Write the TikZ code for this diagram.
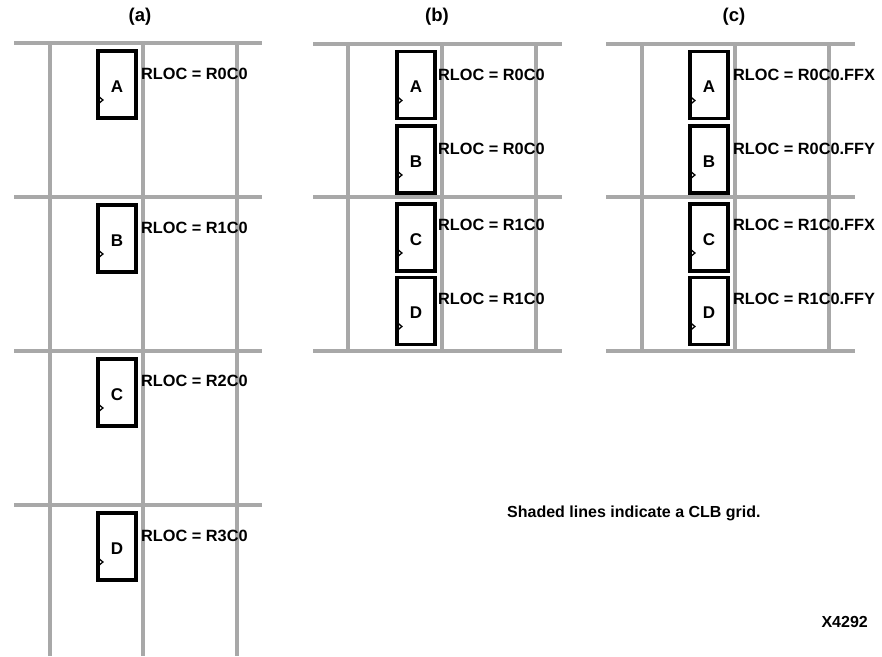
\documentclass[tikz,border=0pt]{standalone}
\usepackage{fontspec}
\setmainfont{Liberation Sans}
\usetikzlibrary{calc}
\tikzset{
  gridline/.style={draw=gray!68, line width=3.2pt},
  ffbox/.style={draw=black, line width=3.2pt, fill=white, minimum width=38pt, minimum height=67pt, inner sep=0pt, font=\bfseries\fontsize{17}{19}\selectfont},
  rloc/.style={anchor=base west, inner sep=0pt, font=\bfseries\fontsize{16.3}{18}\selectfont},
  title/.style={inner sep=0pt, font=\bfseries\fontsize{18.5}{21}\selectfont},
  note/.style={inner sep=0pt, font=\bfseries\fontsize{16}{18}\selectfont},
  clk/.style={draw=black, line width=1.3pt, line join=miter}
}
\newcommand{\clockmark}[1]{\draw[clk] ($(#1.west)+(0.5,10.5)$) -- ++(6,5) -- ++(-6,5);}
\newcommand{\ffl}[1]{\raisebox{-2pt}[\height][0pt]{#1}}
\begin{document}
\begin{tikzpicture}[x=1pt,y=-1pt]
\useasboundingbox (0,0) rectangle (882,656);
% ---------- grid (a)
\foreach \y in {43,197,351,505} \draw[gridline] (14,\y) -- (262,\y);
\foreach \x in {50,143,237} \draw[gridline] (\x,43) -- (\x,656);
% ---------- grid (b)
\foreach \y in {44,197,351} \draw[gridline] (313,\y) -- (562,\y);
\foreach \x in {348,442,536} \draw[gridline] (\x,44) -- (\x,351);
% ---------- grid (c)
\foreach \y in {44,197,351} \draw[gridline] (606,\y) -- (855,\y);
\foreach \x in {642,735,829} \draw[gridline] (\x,44) -- (\x,351);
% ---------- titles
\node[title] (ta) at (140,17) {(a)};
\node[title] (tb) at (437,17) {(b)};
\node[title] (tc) at (734,17) {(c)};
% ---------- boxes (a)
\node[ffbox] (aA) at (117,84.5) {\ffl{A}};
\node[ffbox] (aB) at (117,238.5) {\ffl{B}};
\node[ffbox] (aC) at (117,392.5) {\ffl{C}};
\node[ffbox] (aD) at (117,546.5) {\ffl{D}};
% ---------- boxes (b)
\node[ffbox] (bA) at (416,85) {\ffl{A}};
\node[ffbox] (bB) at (416,159.5) {\ffl{B}};
\node[ffbox] (bC) at (416,237.5) {\ffl{C}};
\node[ffbox] (bD) at (416,311) {\ffl{D}};
% ---------- boxes (c)
\node[ffbox] (cA) at (709,85) {\ffl{A}};
\node[ffbox] (cB) at (709,159.5) {\ffl{B}};
\node[ffbox] (cC) at (709,237.5) {\ffl{C}};
\node[ffbox] (cD) at (709,311) {\ffl{D}};
% ---------- clock marks
\foreach \n in {aA,aB,aC,aD,bA,bB,bC,bD,cA,cB,cC,cD} {\clockmark{\n}}
% ---------- labels (a)
\node[rloc] (laA) at (141,79) {RLOC = R0C0};
\node[rloc] (laB) at (141,233) {RLOC = R1C0};
\node[rloc] (laC) at (141,386) {RLOC = R2C0};
\node[rloc] (laD) at (141,541) {RLOC = R3C0};
% ---------- labels (b)
\node[rloc] (lbA) at (438,80) {RLOC = R0C0};
\node[rloc] (lbB) at (438,154) {RLOC = R0C0};
\node[rloc] (lbC) at (438,230) {RLOC = R1C0};
\node[rloc] (lbD) at (438,304) {RLOC = R1C0};
% ---------- labels (c)
\node[rloc] (lcA) at (733,80) {RLOC = R0C0.FFX};
\node[rloc] (lcB) at (733,154) {RLOC = R0C0.FFY};
\node[rloc] (lcC) at (733,230) {RLOC = R1C0.FFX};
\node[rloc] (lcD) at (733,304) {RLOC = R1C0.FFY};
% ---------- notes
\node[note, anchor=west] (shade) at (507,513) {Shaded lines indicate a CLB grid.};
\node[note, anchor=east] (fig) at (868,622) {X4292};
\end{tikzpicture}
\end{document}
